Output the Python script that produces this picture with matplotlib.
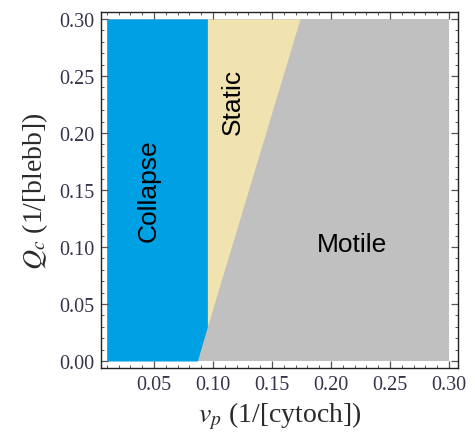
import numpy as np
import matplotlib
matplotlib.use('Agg')
import matplotlib.pyplot as plt
from matplotlib.ticker import MultipleLocator, FormatStrFormatter

# phase boundaries
q_edge = [0.0, 0.030, 0.30]
collapse_edge = [0.0867, 0.0952, 0.0952]   # right edge of Collapse
motile_edge = [0.0867, 0.0952, 0.1737]     # left edge of Motile
vp_min, vp_max = 0.01, 0.30

regions = ['Collapse', 'Static', 'Motile']
region_colors = ['#00a0e4', '#f0e3b0', '#c0c0c0']
label_pos = [(0.0453, 0.150, 90), (0.117, 0.228, 90), (0.218, 0.103, 0)]

plt.rcParams['mathtext.fontset'] = 'stix'
tick_col = '#34344a'

fig = plt.figure(figsize=(4.75, 4.39), dpi=100)
ax = fig.add_axes([0.2126, 0.1595, 0.7516, 0.8109])

# motile background, then static wedge, then collapse
ax.fill_betweenx([q_edge[0], q_edge[-1]], vp_min, vp_max, color=region_colors[2], lw=0)
ax.fill_betweenx(q_edge, collapse_edge, motile_edge, color=region_colors[1], lw=0)
ax.fill_betweenx(q_edge, vp_min, collapse_edge, color=region_colors[0], lw=0)

for name, (x, y, rot) in zip(regions, label_pos):
    ax.text(x, y, name, rotation=rot, ha='center', va='center',
            fontsize=19, family='Liberation Sans', color='black')

ax.set_xlim(0.0051, 0.3076)
ax.set_ylim(-0.0061, 0.3061)

ax.xaxis.set_major_locator(MultipleLocator(0.05))
ax.xaxis.set_minor_locator(MultipleLocator(0.01))
ax.yaxis.set_major_locator(MultipleLocator(0.05))
ax.yaxis.set_minor_locator(MultipleLocator(0.01))
ax.xaxis.set_major_formatter(FormatStrFormatter('%.2f'))
ax.yaxis.set_major_formatter(FormatStrFormatter('%.2f'))
ax.set_xticks([0.05, 0.10, 0.15, 0.20, 0.25, 0.30])

ax.tick_params(which='both', direction='in', top=True, right=True, color='#555555')
ax.tick_params(which='major', length=5, width=0.9, labelsize=14.5, labelcolor=tick_col, pad=5)
ax.tick_params(which='minor', length=2.5, width=0.7)
for lab in ax.get_xticklabels() + ax.get_yticklabels():
    lab.set_family('Liberation Serif')
for sp in ax.spines.values():
    sp.set_linewidth(1.0)
    sp.set_color('#222222')

ax.set_xlabel(r'$v_p$ (1/[cytoch])', fontsize=20, family='Liberation Serif',
              color='#2a2a2a', labelpad=4)
ax.set_ylabel(r'$Q_c$ (1/[blebb])', fontsize=20, family='Liberation Serif',
              color='#2a2a2a', labelpad=6)

fig.savefig('out.png', dpi=100)
